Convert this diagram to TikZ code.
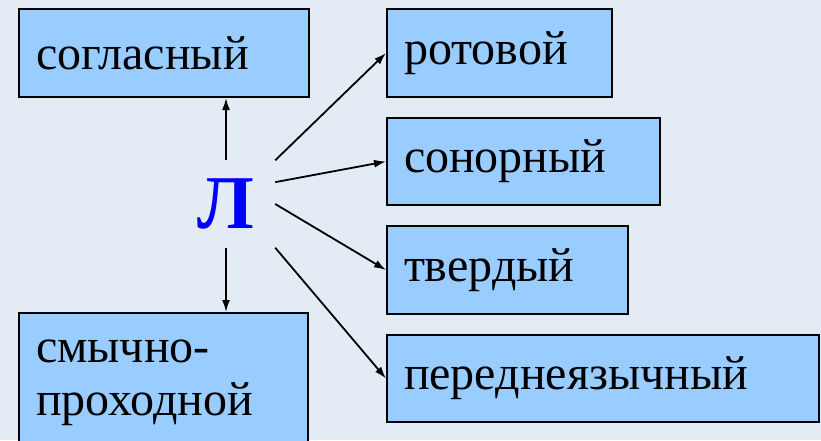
\documentclass[tikz,border=0pt]{standalone}
\usepackage{fontspec}
\setmainfont{Liberation Serif}
\newfontfamily\tnr{Liberation Serif}
\usepackage{xcolor}
\usetikzlibrary{calc,arrows.meta}
\definecolor{bgcol}{HTML}{E3EBF5}
\definecolor{boxcol}{HTML}{99CCFF}

\begin{document}
\begin{tikzpicture}[
  x=1pt, y=-1pt,
  every node/.style={font=\tnr\fontsize{48}{53}\selectfont},
  box/.style={draw=black, line width=2pt, fill=boxcol, rectangle,
    anchor=north west, inner xsep=17pt, inner ysep=0pt, align=left},
  arr/.style={-{Latex[length=12pt,width=8pt]}, line width=1.8pt}
]
  \fill[bgcol] (0,0) rectangle (821,440);
  \clip (0,0) rectangle (821,440);
  \node[box, minimum width=290pt, minimum height=88pt, text width=256pt] (sogl) at (18,8) {согласный};
  \node[box, minimum width=289pt, minimum height=140pt, text width=255pt, anchor=north west] (smych) at (18,312) {смычно-\\проходной};
  \node[box, minimum width=225pt, minimum height=88pt, text width=191pt] (rot) at (386,8) {ротовой};
  \node[box, minimum width=273pt, minimum height=87pt, text width=239pt] (son) at (386,117) {сонорный};
  \node[box, minimum width=241pt, minimum height=88pt, text width=207pt] (tv) at (386,225) {твердый};
  \node[box, minimum width=432pt, minimum height=87pt, text width=398pt] (per) at (386,334) {переднеязычный};
  \node[minimum width=98pt, minimum height=87pt, inner sep=0pt, text=blue,
    font=\tnr\fontsize{76}{76}\selectfont\bfseries] (L) at (226,204) {Л};
  \draw[arr] (L.north) -- (L.north |- sogl.south);
  \draw[arr] (L.south) -- (L.south |- smych.north);
  \draw[arr] (L.north east) -- (rot.west);
  \draw[arr] ($(L.north east)!0.25!(L.south east)$) -- (son.west);
  \draw[arr] (L.east) -- (tv.west);
  \draw[arr] (L.south east) -- (per.west);
\end{tikzpicture}
\end{document}
